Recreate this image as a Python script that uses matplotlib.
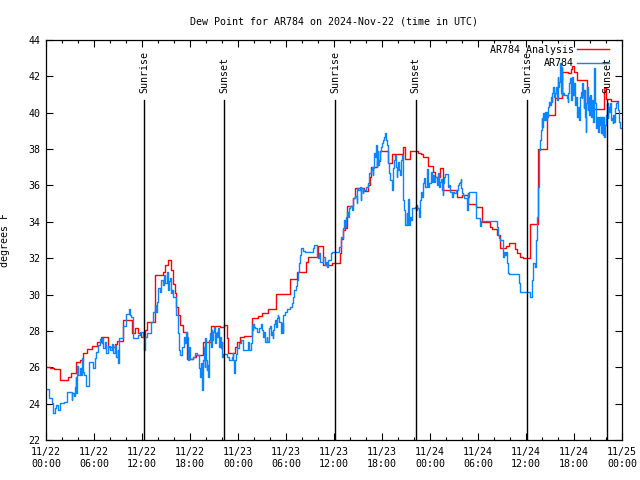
# plot.py
# Dew point for AR784, analysis vs observed, 2024-11-22 .. 2024-11-25 (UTC)

import pandas as pd
import matplotlib
matplotlib.use("Agg")
import matplotlib.pyplot as plt
import matplotlib.dates as mdates

# ── data (hours after 2024-11-22 00:00 UTC, degrees F) ──────────
START = pd.Timestamp("2024-11-22 00:00")

red_hours = [0.0, 0.5, 1.0, 1.75, 2.7, 3.1, 3.7, 4.2, 4.67, 5.1, 5.8, 6.4, 6.9,
             7.8, 8.6, 8.9, 9.6, 10.75, 11.1, 11.5, 11.9, 12.4, 12.6, 13.67,
             14.6, 14.9, 15.3, 15.6, 15.9, 16.1, 16.3, 16.5, 16.8, 17.1, 17.6,
             18.4, 18.7, 19.6, 20.6, 21.7, 22.3, 22.6, 22.8, 23.6, 23.9, 24.25,
             24.7, 25.7, 26.5, 27.0, 27.7, 28.7, 30.5, 31.4, 32.5, 32.8, 34.0,
             34.6, 35.7, 36.7, 36.9, 37.1, 37.4, 37.6, 38.4, 38.6, 39.7, 40.2,
             40.5, 40.6, 41.4, 41.75, 42.7, 43.2, 44.6, 44.9, 45.5, 46.5, 46.9,
             47.1, 47.8, 48.4, 48.6, 49.2, 49.6, 51.4, 52.0, 52.8, 53.7, 54.5,
             55.5, 55.7, 56.4, 56.7, 57.5, 57.9, 58.6, 58.9, 59.2, 59.6, 60.5,
             61.5, 62.6, 63.6, 64.5, 65.3, 65.6, 65.8, 66.0, 66.4, 67.6, 68.4,
             69.7, 70.0, 70.6, 71.5]
red_vals = [26.03, 25.94, 25.88, 25.30, 25.48, 25.67, 26.27, 26.4, 26.77, 26.99,
            27.17, 27.41, 27.68, 27.13, 27.28, 27.46, 28.6, 27.87, 28.14, 27.87,
            27.68, 28.05, 28.51, 31.07, 31.26, 31.63, 31.9, 31.35, 30.6, 30.08,
            29.33, 28.87, 28.33, 27.96, 26.43, 26.55, 26.68, 27.41, 28.29, 28.2,
            28.35, 27.59, 26.8, 27.13, 27.41, 27.65, 27.72, 28.7, 28.82, 28.97,
            29.2, 30.01, 30.84, 31.26, 31.8, 32.04, 32.67, 31.63, 31.75, 32.26,
            33.05, 33.55, 33.64, 34.87, 35.29, 35.84, 35.71, 36.03, 36.49, 37.04,
            37.32, 37.87, 37.26, 37.73, 38.1, 37.46, 37.87, 37.76, 37.73, 37.55,
            37.07, 36.76, 36.45, 36.94, 35.75, 35.35, 35.45, 35.0, 34.8, 34.0,
            33.7, 33.59, 33.27, 32.54, 32.66, 32.82, 32.5, 32.27, 32.04, 31.99,
            33.88, 37.99, 39.88, 40.83, 42.26, 42.2, 42.4, 42.55, 42.26, 41.8,
            40.61, 40.19, 41.34, 40.74, 40.66, 40.66]

blue_hours = [0.05, 0.42, 0.7, 0.85, 1.1, 1.25, 1.55, 1.75, 1.9, 2.2, 2.6, 3.2,
              3.3, 3.5, 3.6, 3.7, 3.75, 3.83, 3.92, 4.05, 4.3, 4.42, 4.55, 4.67,
              4.8, 5.0, 5.4, 5.85, 6.1, 6.3, 6.55, 6.8, 6.95, 7.05, 7.15, 7.4,
              7.55, 7.8, 8.0, 8.2, 8.35, 8.6, 8.8, 8.95, 9.05, 9.15, 9.6, 10.05,
              10.4, 10.5, 10.65, 10.85, 11.55, 11.75, 12.1, 12.2, 12.4, 12.6,
              13.1, 13.4, 13.6, 13.75, 13.85, 13.95, 14.25, 14.4, 14.6, 14.75,
              14.9, 15.1, 15.2, 15.35, 15.45, 15.6, 15.75, 15.9, 16.25, 16.5,
              16.6, 16.75, 16.96, 17.25, 17.37, 17.5, 17.67, 17.79, 17.92, 18.0,
              18.42, 18.63, 18.92, 19.17, 19.25, 19.38, 19.46, 19.54, 19.67,
              19.75, 19.83, 19.92, 20.0, 20.08, 20.17, 20.25, 20.33, 20.42, 20.5,
              20.58, 20.71, 20.79, 20.92, 21.04, 21.13, 21.21, 21.33, 21.42,
              21.54, 21.67, 21.75, 21.83, 21.96, 22.04, 22.17, 22.58, 22.92,
              23.21, 23.33, 23.42, 23.54, 23.63, 23.75, 23.92, 24.17, 24.33,
              24.67, 25.29, 25.42, 25.58, 25.71, 25.83, 25.92, 26.04, 26.17,
              26.33, 26.58, 26.83, 26.96, 27.17, 27.29, 27.38, 27.58, 27.67,
              27.92, 28.0, 28.08, 28.21, 28.33, 28.42, 28.54, 28.63, 28.75,
              28.83, 28.96, 29.04, 29.17, 29.33, 29.46, 29.58, 29.67, 29.88,
              30.08, 30.5, 30.71, 30.83, 31.0, 31.25, 31.42, 31.54, 31.67, 31.75,
              31.83, 32.08, 32.38, 33.42, 33.5, 33.83, 33.92, 34.04, 34.17, 34.25,
              34.46, 34.67, 34.875, 35.0, 35.17, 35.29, 35.58, 35.75, 36.67,
              36.83, 36.96, 37.08, 37.25, 37.38, 37.46, 37.58, 37.67, 37.75,
              37.83, 38.0, 38.21, 38.42, 38.58, 38.83, 38.92, 39.04, 39.25,
              39.33, 39.38, 39.58, 39.67, 40.0, 40.29, 40.38, 40.58, 40.71, 40.83,
              40.92, 41.04, 41.13, 41.25, 41.33, 41.42, 41.54, 41.63, 41.75,
              41.88, 41.96, 42.08, 42.25, 42.38, 42.5, 42.58, 42.71, 42.79, 42.92,
              43.0, 43.21, 43.33, 43.42, 43.54, 43.63, 43.71, 43.83, 43.92, 44.04,
              44.17, 44.25, 44.33, 44.46, 44.58, 44.67, 44.75, 44.88, 44.92,
              45.08, 45.17, 45.29, 45.38, 45.42, 45.5, 45.63, 45.71, 46.13, 46.25,
              46.33, 46.42, 46.67, 46.75, 46.83, 46.96, 47.17, 47.25, 47.38,
              47.67, 47.79, 47.92, 48.13, 48.29, 48.42, 48.54, 48.63, 48.92,
              49.04, 49.13, 49.25, 49.38, 49.46, 49.58, 49.67, 49.75, 49.88,
              50.29, 50.42, 50.5, 50.79, 50.92, 51.04, 51.21, 51.54, 51.67, 51.75,
              51.83, 51.92, 52.04, 52.17, 52.29, 52.58, 52.67, 52.71, 52.79,
              52.92, 53.71, 54.25, 54.33, 56.42, 56.54, 56.67, 56.75, 57.08,
              57.17, 57.25, 57.38, 57.5, 57.58, 57.67, 57.71, 57.92, 59.17, 59.25,
              60.5, 60.79, 60.92, 61.13, 61.21, 61.42, 61.54, 61.63, 61.75, 61.88,
              61.96, 62.04, 62.17, 62.29, 62.38, 62.5, 62.58, 62.67, 62.79, 62.92,
              63.0, 63.13, 63.21, 63.29, 63.42, 63.5, 63.63, 63.75, 63.83, 63.96,
              64.04, 64.13, 64.25, 64.33, 64.46, 64.54, 64.67, 64.79, 65.08,
              65.21, 65.29, 65.42, 65.5, 65.63, 65.71, 65.79, 65.92, 66.04, 66.13,
              66.21, 66.33, 66.42, 66.54, 66.67, 66.75, 66.83, 66.96, 67.04,
              67.13, 67.21, 67.29, 67.38, 67.46, 67.54, 67.63, 67.71, 67.79,
              67.88, 67.96, 68.04, 68.13, 68.21, 68.29, 68.42, 68.5, 68.54, 68.63,
              68.71, 68.79, 68.88, 68.96, 69.04, 69.13, 69.21, 69.29, 69.38,
              69.46, 69.58, 69.67, 69.75, 69.88, 69.96, 70.08, 70.21, 70.29,
              70.42, 70.5, 70.63, 70.71, 70.83, 70.92, 71.04, 71.13, 71.25, 71.33,
              71.46, 71.63, 71.75, 71.9]
blue_vals = [24.79, 24.29, 24.02, 23.47, 23.74, 23.93, 23.65, 24.02, 24.05, 24.11,
             24.62, 24.2, 24.57, 24.4, 24.93, 25.48, 24.57, 25.48, 26.07, 25.58,
             25.94, 25.58, 26.49, 25.76, 25.58, 24.97, 26.31, 25.94, 26.49, 26.86,
             27.23, 27.54, 27.32, 27.59, 27.04, 27.41, 26.8, 27.18, 26.95, 27.28,
             26.77, 27.23, 26.58, 26.95, 26.25, 27.59, 28.27, 28.93, 29.19, 28.85,
             28.78, 27.59, 27.78, 27.96, 27.68, 26.95, 27.68, 27.9, 28.51, 29.06,
             29.43, 29.06, 29.61, 30.34, 30.15, 30.8, 30.5, 31.08, 30.62, 31.26,
             30.25, 30.75, 30.89, 30.07, 30.25, 29.88, 28.88, 27.87, 26.95, 26.68,
             27.13, 27.68, 27.32, 27.96, 27.68, 26.4, 27.13, 26.43, 26.58, 26.77,
             26.68, 25.94, 25.48, 26.22, 25.3, 24.75, 26.4, 27.13, 26.03, 27.59,
             26.4, 25.85, 26.12, 25.48, 26.58, 27.5, 27.87, 27.13, 28.05, 27.5,
             27.96, 28.23, 27.32, 27.87, 27.96, 27.68, 28.14, 27.13, 27.68, 27.04,
             27.41, 26.58, 26.73, 26.58, 26.4, 26.58, 26.77, 26.4, 25.7, 26.4,
             26.73, 27.04, 27.35, 27.5, 26.95, 27.41, 26.95, 27.32, 28.33, 28.05,
             28.38, 28.23, 28.14, 27.96, 28.14, 28.38, 28.05, 27.68, 27.96, 27.41,
             27.68, 27.41, 28.14, 28.27, 27.78, 27.96, 27.63, 28.05, 28.38, 28.6,
             28.23, 28.69, 28.88, 28.78, 28.51, 27.87, 28.45, 27.87, 28.88, 29.06,
             29.19, 29.33, 29.52, 29.88, 30.25, 30.47, 30.8, 31.26, 31.72, 32.18,
             32.54, 32.41, 32.36, 32.54, 32.73, 32.18, 32.08, 31.99, 32.27, 31.81,
             31.81, 32.08, 31.63, 31.81, 31.53, 31.9, 32.27, 32.32, 32.63, 33.18,
             33.09, 33.64, 34.1, 33.73, 34.28, 34.5, 34.55, 34.28, 34.74, 34.87,
             34.65, 35.29, 35.42, 35.01, 35.84, 35.75, 35.93, 35.2, 35.84, 35.57,
             35.75, 35.93, 36.12, 36.67, 36.85, 37.03, 36.58, 36.94, 37.77, 37.58,
             38.23, 37.03, 37.87, 37.12, 37.4, 37.87, 38.13, 38.32, 38.5, 38.68,
             38.87, 38.5, 38.23, 37.58, 37.22, 36.67, 36.3, 35.75, 36.3, 36.94,
             37.4, 37.68, 37.03, 36.49, 36.85, 37.31, 36.85, 36.58, 37.4, 37.68,
             35.93, 35.2, 34.65, 34.1, 33.83, 34.47, 33.83, 35.24, 34.55, 33.83,
             34.28, 34.1, 34.74, 34.82, 34.65, 34.9, 34.74, 34.28, 35.2, 35.66,
             35.38, 36.12, 36.39, 35.93, 36.89, 35.93, 36.12, 36.76, 36.21, 36.58,
             36.21, 36.49, 36.03, 36.67, 35.93, 36.21, 36.34, 35.75, 35.48, 36.12,
             36.49, 36.61, 35.93, 36.03, 35.66, 35.35, 35.66, 35.57, 35.75, 36.03,
             36.12, 36.21, 36.34, 35.84, 35.57, 35.48, 35.29, 35.11, 34.65, 35.57,
             35.38, 35.66, 34.19, 33.77, 34.05, 33.73, 33.27, 33.09, 33.0, 32.45,
             32.08, 32.36, 32.18, 32.36, 32.18, 31.72, 31.17, 31.13, 30.62, 30.12,
             29.88, 30.8, 31.72, 31.53, 33.0, 34.28, 35.93, 37.95, 38.5, 39.05,
             39.69, 39.23, 39.96, 39.6, 40.06, 39.6, 40.06, 39.78, 40.33, 40.61,
             40.43, 40.88, 40.61, 41.06, 41.43, 40.88, 41.06, 41.43, 40.7, 41.98,
             41.43, 41.71, 42.72, 41.06, 42.54, 40.97, 41.06, 40.97, 40.79, 40.61,
             41.06, 41.62, 41.9, 40.7, 41.25, 41.98, 40.97, 41.62, 40.43, 40.88,
             40.06, 39.78, 40.33, 39.6, 40.88, 41.16, 40.79, 41.62, 40.97, 40.24,
             41.25, 39.78, 38.96, 40.52, 41.43, 40.15, 40.88, 39.87, 40.52, 40.97,
             39.78, 40.15, 40.7, 39.51, 40.24, 42.45, 40.52, 39.78, 39.14, 39.78,
             39.33, 38.96, 39.78, 39.33, 39.78, 38.87, 39.78, 38.78, 39.78, 38.65,
             39.33, 39.87, 40.52, 39.69, 40.33, 40.06, 40.52, 39.6, 39.69, 39.42,
             39.87, 39.51, 40.24, 40.52, 40.61, 40.15, 39.51, 39.14, 39.14]

sun_hours = [12.28, 22.28, 36.17, 46.2, 60.17, 70.15]
sun_labels = ["Sunrise", "Sunset", "Sunrise", "Sunset", "Sunrise", "Sunset"]

# ── figure ───────────────────────────────────────────────────────
FONT = "DejaVu Sans Mono"
FS = 7.2
plt.rcParams["font.family"] = FONT
plt.rcParams["font.size"] = FS

red_t = START + pd.to_timedelta(red_hours, unit="h")
blue_t = START + pd.to_timedelta(blue_hours, unit="h")
sun_t = START + pd.to_timedelta(sun_hours, unit="h")

fig = plt.figure(figsize=(6.4, 4.8), dpi=100)
ax = fig.add_axes([46 / 640, 40 / 480, 576 / 640, 400 / 480])

ax.plot(red_t, red_vals, color="#ff0000", lw=1.0, drawstyle="steps-post",
        label="AR784 Analysis")
ax.plot(blue_t, blue_vals, color="#0a84ff", lw=1.0, drawstyle="steps-post",
        label="AR784")

# sunrise / sunset markers
for t, lab in zip(sun_t, sun_labels):
    ax.axvline(t, ymin=0, ymax=0.851, color="black", lw=1.0)
    ax.text(t, 0.868, lab, rotation=90, ha="center", va="bottom",
            transform=ax.get_xaxis_transform())

ax.set_xlim(START, START + pd.Timedelta(hours=72))
ax.set_ylim(22, 44)
ax.set_yticks(range(22, 45, 2))

ax.xaxis.set_major_locator(mdates.HourLocator(byhour=range(0, 24, 6)))
ax.xaxis.set_minor_locator(mdates.HourLocator(byhour=range(0, 24, 2)))
ax.xaxis.set_major_formatter(mdates.DateFormatter("%m/%d\n%H:%M"))

ax.tick_params(which="both", direction="in", top=True, right=True,
               labelsize=FS, width=0.8)
ax.tick_params(which="major", length=5)
ax.tick_params(which="minor", length=2.5)
ax.tick_params(axis="x", pad=5)
ax.tick_params(axis="y", pad=4)
for s in ax.spines.values():
    s.set_linewidth(0.9)

ax.set_title("Dew Point for AR784 on 2024-Nov-22 (time in UTC)",
             fontsize=FS, pad=11)
ax.set_ylabel("degrees F", fontsize=FS)
ax.yaxis.set_label_coords(-0.062, 0.5)

ax.legend(loc="upper right", bbox_to_anchor=(1 - 9 / 576, 1 - 1 / 400),
          frameon=False, markerfirst=False,
          handlelength=3.2, handletextpad=0.3, labelspacing=0.35,
          borderaxespad=0.2, borderpad=0.2, fontsize=FS)

fig.savefig("out.png", dpi=100)
